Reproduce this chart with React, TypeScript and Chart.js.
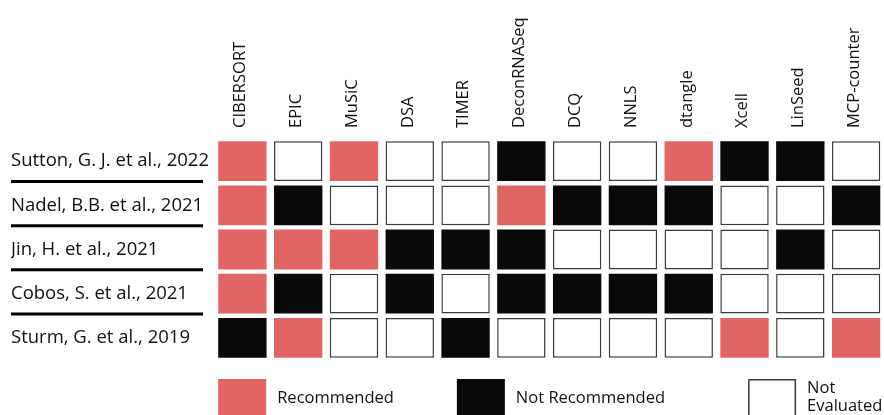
import React, { useEffect, useRef } from "react";
import { Chart, registerables } from "chart.js";

Chart.register(...registerables);

const methods = [
  "CIBERSORT", "EPIC", "MuSiC", "DSA", "TIMER", "DeconRNASeq",
  "DCQ", "NNLS", "dtangle", "Xcell", "LinSeed", "MCP-counter",
];

const studies = [
  "Sutton, G. J. et al., 2022",
  "Nadel, B.B. et al., 2021",
  "Jin, H. et al., 2021",
  "Cobos, S. et al., 2021",
  "Sturm, G. et al., 2019",
];

// R = Recommended, N = Not Recommended, E = Not Evaluated
const suttonStatus = ["R", "E", "R", "E", "E", "N", "E", "E", "R", "N", "N", "E"];
const nadelStatus = ["R", "N", "E", "E", "E", "R", "N", "N", "N", "E", "E", "N"];
const jinStatus = ["R", "R", "R", "N", "N", "N", "E", "E", "E", "E", "N", "E"];
const cobosStatus = ["R", "N", "E", "N", "E", "N", "N", "N", "N", "E", "E", "E"];
const sturmStatus = ["N", "R", "E", "E", "N", "E", "E", "E", "E", "R", "E", "R"];

const statusRows = [suttonStatus, nadelStatus, jinStatus, cobosStatus, sturmStatus];

const legendCodes = ["R", "N", "E"];
const legendLabels = ["Recommended", "Not Recommended", "Not\nEvaluated"];

const FILL: Record<string, string> = { R: "#e06565", N: "#080a0a", E: "#ffffff" };
const EDGE: Record<string, string> = { R: "#e06565", N: "#080a0a", E: "#3a3a3a" };
const FONT = "'Open Sans', sans-serif";
const CELL_GAP = 0.05;

const extrasPlugin = {
  id: "extras",
  afterDraw(chart: any) {
    const ctx = chart.ctx;
    const y = chart.scales.y;
    const area = chart.chartArea;
    ctx.save();
    // separator lines under row labels
    ctx.strokeStyle = "#000";
    ctx.lineWidth = 3;
    for (let k = 1; k < studies.length; k++) {
      const py = y.getPixelForValue(k - 0.04);
      ctx.beginPath();
      ctx.moveTo(11, py);
      ctx.lineTo(203, py);
      ctx.stroke();
    }
    // legend
    const w = area.right - area.left;
    const boxX = [area.left + 0.0055 * w, area.left + 0.362 * w, area.left + 0.797 * w];
    const boxTop = area.bottom + 19;
    const boxW = 48;
    const boxH = 40;
    ctx.font = `16.5px ${FONT}`;
    ctx.textBaseline = "middle";
    ctx.textAlign = "left";
    legendCodes.forEach((code, i) => {
      ctx.fillStyle = FILL[code];
      ctx.fillRect(boxX[i], boxTop, boxW, boxH);
      if (code === "E") {
        ctx.strokeStyle = EDGE[code];
        ctx.lineWidth = 1.5;
        ctx.strokeRect(boxX[i] + 0.75, boxTop + 0.75, boxW - 1.5, boxH - 1.5);
      }
      ctx.fillStyle = "#111";
      const lines = legendLabels[i].split("\n");
      const lh = 18;
      const cy = boxTop + 19 - ((lines.length - 1) * lh) / 2 + (lines.length > 1 ? -1 : 0);
      lines.forEach((ln, j) => {
        ctx.fillText(ln, boxX[i] + boxW + 11, cy + j * lh);
      });
    });
    ctx.restore();
  },
};

export default function App() {
  const ref = useRef<HTMLCanvasElement | null>(null);
  useEffect(() => {
    if (!ref.current) return;
    const datasets = statusRows.map((row, i) => ({
      label: studies[i],
      data: row.map(() => [i + CELL_GAP, i + 1 - CELL_GAP]),
      backgroundColor: row.map((s) => FILL[s]),
      borderColor: row.map((s) => EDGE[s]),
      borderWidth: row.map((s) => (s === "E" ? 1.5 : 0)),
      borderSkipped: false,
      grouped: false,
      barPercentage: 1,
      categoryPercentage: 0.867,
    }));
    const chart = new Chart(ref.current, {
      type: "bar",
      data: { labels: methods, datasets: datasets as any },
      options: {
        animation: false,
        responsive: true,
        maintainAspectRatio: false,
        layout: { padding: { left: 11, right: 0, top: 0, bottom: 55 } },
        plugins: { legend: { display: false }, tooltip: { enabled: false } },
        scales: {
          x: {
            type: "category",
            position: "top",
            grid: { display: false },
            border: { display: false },
            ticks: {
              minRotation: 90,
              maxRotation: 90,
              autoSkip: false,
              padding: 3,
              labelOffset: 18,
              color: "#111",
              font: { family: FONT, size: 16.5 },
            },
            afterFit: (s: any) => {
              s.height = 139;
            },
          },
          y: {
            type: "linear",
            min: 0,
            max: studies.length,
            reverse: true,
            grid: { display: false },
            border: { display: false },
            afterBuildTicks: (s: any) => {
              s.ticks = studies.map((_, i) => ({ value: i + 0.5 }));
            },
            afterFit: (s: any) => {
              s.width = 203.5;
            },
            ticks: {
              crossAlign: "far",
              color: "#111",
              font: { family: FONT, size: 18.5 },
              callback: (v: any) => studies[Math.floor(Number(v))],
            },
          },
        },
      },
      plugins: [extrasPlugin],
    });
    return () => chart.destroy();
  }, []);
  return (
    <div style={{ position: "fixed", left: 0, top: 0, width: 884, height: 415, background: "#fff" }}>
      <canvas ref={ref} />
    </div>
  );
}
